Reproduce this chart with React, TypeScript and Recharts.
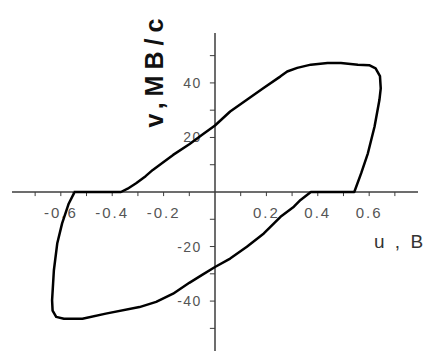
import React from "react";
import { LineChart, Line, XAxis, YAxis, ReferenceLine } from "recharts";

// Loop trace: u (V) and v (m/s), listed in drawing order
const uValues = [
  -0.55, -0.366, -0.34, -0.307, -0.27, -0.242, -0.2, -0.163, -0.1, -0.05, 0,
  0.059, 0.124, 0.189, 0.255, 0.281, 0.32, 0.373, 0.438, 0.49, 0.556, 0.6,
  0.625, 0.642, 0.645, 0.64, 0.621, 0.595, 0.569, 0.542, 0.373, 0.333, 0.307,
  0.255, 0.19, 0.124, 0.059, 0, -0.05, -0.1, -0.163, -0.229, -0.294,
  -0.425, -0.516, -0.588, -0.618, -0.632, -0.634, -0.627, -0.614, -0.595,
  -0.569, -0.549, -0.55,
];
const vValues = [
  0, 0, 1.2, 3.2, 5.8, 8.1, 11, 13.6, 17.5, 21, 24.4,
  29.5, 33.8, 38.1, 42.4, 44.2, 45.5, 46.7, 47.3, 47.3, 46.7, 46.5,
  45.3, 42.5, 38, 33.8, 24, 14.2, 6.9, 0, 0, -2.9, -5.4,
  -9.1, -15.2, -20.1, -24.4, -27.5, -30.4, -33.3, -37.3, -40.3, -42.2,
  -44.6, -46.5, -46.5, -45.8, -43.5, -39.7, -28.7, -18.9, -11.5,
  -4.2, -0.5, 0,
];

// Axis ticks
const uMinorTicks = [-0.7, -0.6, -0.5, -0.4, -0.3, -0.2, -0.1, 0.1, 0.2, 0.3, 0.4, 0.5, 0.6, 0.7];
const uTickLabels = [-0.6, -0.4, -0.2, 0.2, 0.4, 0.6];
const vMinorTicks = [-50, -40, -30, -20, -10, 10, 20, 30, 40, 50];
const vTickLabels = [-40, -20, 20, 40];

const uDomain = [-0.79, 0.79];
const vDomain = [-58.3, 58.3];
const uTickLen = 0.02;
const vTickLen = 1.5;

const loop = uValues.map((u, i) => ({ u, v: vValues[i] }));

const axisColor = "#3c3c3c";
const tickTextColor = "#555";
const font = "'Liberation Sans', Arial, sans-serif";

const uLabel = (text: string) => (props: any) => {
  const vb = props.viewBox;
  return (
    <text
      x={vb.x + vb.width / 2}
      y={vb.y + vb.height + 22}
      textAnchor="middle"
      fontFamily={font}
      fontSize={15}
      letterSpacing={2}
      fill={tickTextColor}
    >
      {text}
    </text>
  );
};

const vLabel = (text: string) => (props: any) => {
  const vb = props.viewBox;
  return (
    <text
      x={vb.x - 8}
      y={vb.y + vb.height / 2 + 5}
      textAnchor="end"
      fontFamily={font}
      fontSize={14}
      letterSpacing={1.5}
      fill={tickTextColor}
    >
      {text}
    </text>
  );
};

const uAxisTitle = (props: any) => {
  const vb = props.viewBox;
  return (
    <text
      x={vb.x + vb.width - 44}
      y={vb.y + 56}
      fontFamily={font}
      fontSize={19}
      letterSpacing={2.5}
      fill="#333"
    >
      u , B
    </text>
  );
};

const vAxisTitle = (props: any) => {
  const vb = props.viewBox;
  const x = vb.x - 52;
  const y = vb.y + 37;
  return (
    <text
      x={x}
      y={y}
      transform={`rotate(-90 ${x} ${y})`}
      textAnchor="middle"
      fontFamily={font}
      fontSize={25}
      fontWeight="bold"
      letterSpacing={6}
      fill="#111"
    >
      v,MB/c
    </text>
  );
};

export default function App() {
  return (
    <div style={{ position: "absolute", left: 0, top: 0, background: "#fff" }}>
      <LineChart
        width={428}
        height={351}
        data={loop}
        margin={{ top: 33, right: 10, bottom: 0, left: 12 }}
      >
        <XAxis type="number" dataKey="u" domain={uDomain} allowDataOverflow hide />
        <YAxis type="number" dataKey="v" domain={vDomain} allowDataOverflow hide />

        <ReferenceLine y={0} stroke={axisColor} strokeWidth={1.5} label={uAxisTitle} />
        <ReferenceLine x={0} stroke={axisColor} strokeWidth={1.5} label={vAxisTitle} />

        {uMinorTicks.map((t) => (
          <ReferenceLine
            key={`ut${t}`}
            segment={[{ x: t, y: 0 }, { x: t, y: -vTickLen }]}
            stroke={axisColor}
            strokeWidth={1}
          />
        ))}
        {uTickLabels.map((t) => (
          <ReferenceLine
            key={`ul${t}`}
            segment={[{ x: t, y: 0 }, { x: t, y: -vTickLen }]}
            stroke="none"
            label={uLabel(String(t))}
          />
        ))}
        {vMinorTicks.map((t) => (
          <ReferenceLine
            key={`vt${t}`}
            segment={[{ x: -uTickLen, y: t }, { x: 0, y: t }]}
            stroke={axisColor}
            strokeWidth={1}
          />
        ))}
        {vTickLabels.map((t) => (
          <ReferenceLine
            key={`vl${t}`}
            segment={[{ x: -uTickLen, y: t }, { x: 0, y: t }]}
            stroke="none"
            label={vLabel(String(t))}
          />
        ))}

        <Line
          type="linear"
          dataKey="v"
          stroke="#000"
          strokeWidth={2.5}
          strokeLinejoin="round"
          dot={false}
          isAnimationActive={false}
        />
      </LineChart>
    </div>
  );
}
